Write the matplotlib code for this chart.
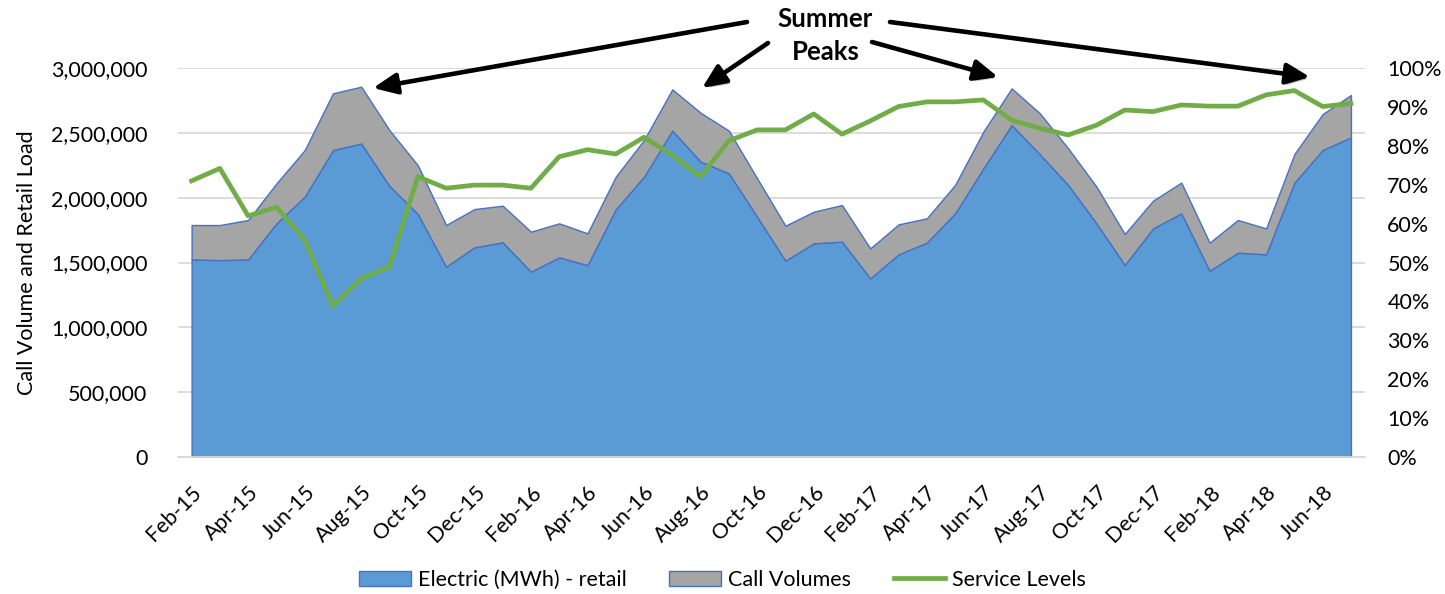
import matplotlib.pyplot as plt
import matplotlib.patheffects as pe
import numpy as np
from matplotlib.ticker import FuncFormatter, PercentFormatter

plt.rcParams['font.family'] = ['Lato', 'DejaVu Sans']

# monthly values Feb-15 .. Jul-18
electric = [1524000, 1519000, 1524000, 1802000, 2008000, 2367000, 2418000, 2090000,
            1874000, 1468000, 1617000, 1656000, 1430000, 1540000, 1480000, 1910000,
            2162000, 2517000, 2278000, 2188000, 1853000, 1514000, 1648000, 1661000,
            1378000, 1563000, 1653000, 1879000, 2226000, 2560000, 2334000, 2098000,
            1802000, 1481000, 1763000, 1879000, 1437000, 1576000, 1563000, 2116000,
            2368000, 2465000]
call_volumes = [265000, 270000, 304000, 308000, 359000, 438000, 438000, 430000,
                376000, 321000, 295000, 282000, 308000, 262000, 245000, 252000,
                283000, 318000, 377000, 329000, 296000, 270000, 244000, 282000,
                231000, 231000, 188000, 219000, 283000, 283000, 316000, 282000,
                283000, 239000, 214000, 237000, 216000, 252000, 200000, 221000,
                277000, 327000]
service_levels = [0.710, 0.742, 0.620, 0.642, 0.558, 0.388, 0.459, 0.489,
                  0.721, 0.691, 0.699, 0.699, 0.691, 0.772, 0.790, 0.779,
                  0.822, 0.776, 0.721, 0.813, 0.841, 0.841, 0.882, 0.830,
                  0.864, 0.901, 0.913, 0.913, 0.918, 0.866, 0.845, 0.828,
                  0.853, 0.892, 0.888, 0.905, 0.902, 0.902, 0.931, 0.942,
                  0.901, 0.909]
tick_labels = ['Feb-15', 'Apr-15', 'Jun-15', 'Aug-15', 'Oct-15', 'Dec-15',
               'Feb-16', 'Apr-16', 'Jun-16', 'Aug-16', 'Oct-16', 'Dec-16',
               'Feb-17', 'Apr-17', 'Jun-17', 'Aug-17', 'Oct-17', 'Dec-17',
               'Feb-18', 'Apr-18', 'Jun-18']

x = np.arange(len(electric))

fig = plt.figure(figsize=(14.45, 5.94), dpi=100)
ax = fig.add_axes([0.1232, 0.2306, 0.8215, 0.6549])

ax.stackplot(x, electric, call_volumes, colors=['#5B9BD5', '#A5A5A5'],
             edgecolor='#4472C4', linewidth=1,
             labels=['Electric (MWh) - retail', 'Call Volumes'])
ax.set_xlim(-0.48, 41.5)
ax.set_ylim(0, 3000000)
ax.set_yticks(np.arange(0, 3000001, 500000))
ax.yaxis.set_major_formatter(FuncFormatter(lambda v, p: f'{v:,.0f}'))
ax.yaxis.grid(True, color='#D9D9D9', lw=1.3)
ax.set_axisbelow(True)
ax.set_xticks(x[::2])
ax.set_xticklabels(tick_labels, rotation=45, ha='right', rotation_mode='anchor')
ax.tick_params(axis='x', length=0, pad=18, labelsize=15.5)
ax.tick_params(axis='y', length=0, pad=22, labelsize=15.5)
ax.set_ylabel('Call Volume and Retail Load', fontsize=15.5, labelpad=10)
for s in ['top', 'right', 'left']:
    ax.spines[s].set_visible(False)
ax.spines['bottom'].set_color('#D9D9D9')
ax.spines['bottom'].set_linewidth(1.3)

ax2 = ax.twinx()
ax2.plot(x, service_levels, color='#70AD47', lw=3.4, label='Service Levels')
ax2.set_ylim(0, 1)
ax2.set_yticks(np.arange(0, 1.01, 0.1))
ax2.yaxis.set_major_formatter(PercentFormatter(1.0, decimals=0))
ax2.tick_params(axis='y', length=0, pad=16, labelsize=15.5)
for s in ax2.spines.values():
    s.set_visible(False)

h1, l1 = ax.get_legend_handles_labels()
h2, l2 = ax2.get_legend_handles_labels()
fig.legend(h1 + h2, l1 + l2, loc='center', bbox_to_anchor=(0.5, 0.0236), ncol=3,
           frameon=False, fontsize=15.5, handlelength=2.4, handleheight=0.7,
           columnspacing=2.0, handletextpad=0.3)

# "Summer Peaks" callout, positions in figure pixels
H = 594
fig.text(825 / 1445, 1 - 19 / H, 'Summer', ha='center', va='center',
         fontsize=18.5, fontweight='bold')
fig.text(826 / 1445, 1 - 52 / H, 'Peaks', ha='center', va='center',
         fontsize=18.5, fontweight='bold')
arrows = [((747, 22), (373, 88)), ((768, 43), (702, 88)),
          ((872, 42), (998, 77)), ((890, 22), (1310, 77))]
for tail, head in arrows:
    ann = ax.annotate('', xy=(head[0], H - head[1]), xytext=(tail[0], H - tail[1]),
                      xycoords='figure pixels', textcoords='figure pixels',
                      arrowprops=dict(arrowstyle='-|>,head_length=0.95,head_width=0.42',
                                      mutation_scale=15, lw=3.3, color='black',
                                      shrinkA=0, shrinkB=0))
    ann.arrow_patch.set_path_effects([pe.SimplePatchShadow(offset=(2, -2), alpha=0.25),
                                      pe.Normal()])

fig.savefig('out.png', dpi=100)
